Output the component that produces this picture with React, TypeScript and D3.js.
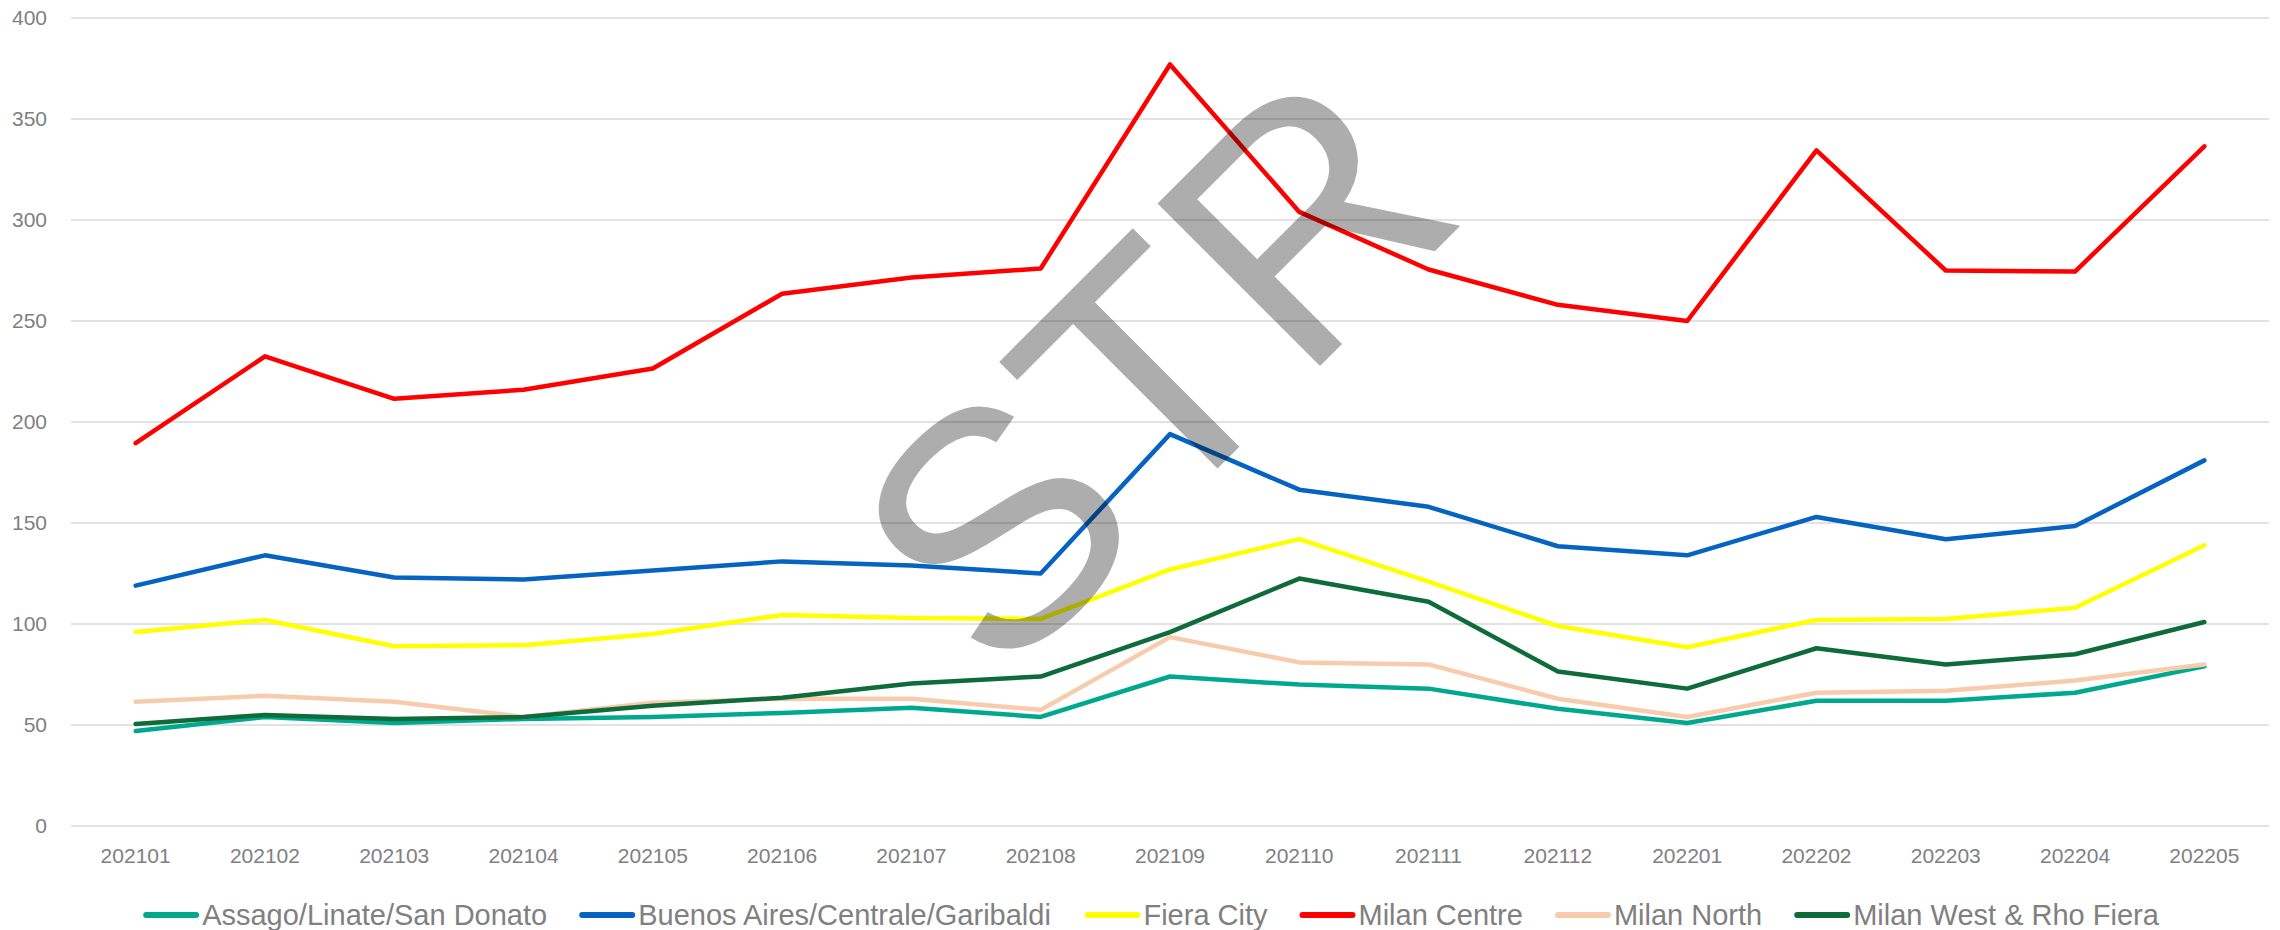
import { scaleLinear, scaleBand, line } from "d3";

const width = 2280;
const height = 930;
const margin = { top: 18, right: 11, bottom: 104, left: 71 };
const innerWidth = width - margin.left - margin.right;
const innerHeight = height - margin.top - margin.bottom;
const fontFamily = "'Liberation Sans', Arial, sans-serif";

const months = [
    "202101", "202102", "202103", "202104", "202105", "202106", "202107", "202108", "202109",
    "202110", "202111", "202112", "202201", "202202", "202203", "202204", "202205",
];
const yTicks = [0, 50, 100, 150, 200, 250, 300, 350, 400];

const assago = [47, 54, 51, 53, 54, 56, 58.5, 54, 74, 70, 68, 58, 51, 62, 62, 66, 79];
const buenosAires = [119, 134, 123, 122, 126.5, 131, 129, 125, 194, 166.5, 158, 138.5, 134, 153, 142, 148.5, 181];
const fieraCity = [96, 102, 89, 89.5, 95, 104.5, 103, 102.5, 127, 142, 121, 99, 88.5, 102, 102.5, 108, 139];
const milanCentre = [189.5, 232.5, 211.5, 216, 226.5, 263.5, 271.5, 276, 377, 304, 275.5, 258, 250, 334.5, 275, 274.5, 336.5];
const milanNorth = [61.5, 64.5, 61.5, 54, 61, 63, 63, 57.5, 93.5, 81, 80, 63, 54, 66, 67, 72, 80];
const milanWest = [50.5, 55, 53, 54, 59.5, 63.5, 70.5, 74, 96, 122.5, 111, 76.5, 68, 88, 80, 85, 101];

const seriesNames = [
    "Assago/Linate/San Donato",
    "Buenos Aires/Centrale/Garibaldi",
    "Fiera City",
    "Milan Centre",
    "Milan North",
    "Milan West & Rho Fiera",
];
const seriesValues = [assago, buenosAires, fieraCity, milanCentre, milanNorth, milanWest];
const seriesColors = ["#00A98D", "#0563C1", "#FFFF00", "#FF0000", "#F8CBAD", "#0E6B3A"];

// legend text widths, measured with a canvas so items can be laid out in a row
function measure(text: string, size: number) {
    const ctx = document.createElement("canvas").getContext("2d");
    if (!ctx) return text.length * size * 0.5;
    ctx.font = `${size}px ${fontFamily}`;
    return ctx.measureText(text).width;
}

export default function App() {
    const xScale = scaleBand<string>().domain(months).range([0, innerWidth]);
    const yScale = scaleLinear().domain([0, 400]).range([innerHeight, 0]);

    const lineGenerator = line<number>()
        .x((_, i) => (xScale(months[i]) ?? 0) + xScale.bandwidth() / 2)
        .y((d) => yScale(d));

    const yAxisGrid = yTicks.map((value) => (
        <g key={value} transform={`translate(0,${yScale(value)})`}>
            <line x1={0} x2={innerWidth} stroke="#D9D9D9" strokeWidth={1.5} />
            <text x={-24} y={7} textAnchor="end" fontSize={21} fill="#808080">
                {value}
            </text>
        </g>
    ));

    const xLabels = months.map((m) => (
        <text
            key={m}
            x={(xScale(m) ?? 0) + xScale.bandwidth() / 2}
            y={innerHeight + 37}
            textAnchor="middle"
            fontSize={21}
            fill="#808080"
        >
            {m}
        </text>
    ));

    // legend layout
    const swatch = 56;
    const legendFont = 29;
    const widths = seriesNames.map((n) => measure(n, legendFont));
    const itemGap = 32;
    const total = widths.reduce((a, b) => a + b, 0) + seriesNames.length * (swatch + 3) + (seriesNames.length - 1) * itemGap;
    let cursor = 1151 - total / 2;
    const legendItems = seriesNames.map((name, i) => {
        const x0 = cursor;
        cursor += swatch + 3 + widths[i] + itemGap;
        return (
            <g key={name} transform={`translate(${x0},915)`}>
                <line x1={3} x2={swatch - 3} stroke={seriesColors[i]} strokeWidth={6} strokeLinecap="round" />
                <text x={swatch + 3} y={10} fontSize={legendFont} fill="#808080">
                    {name}
                </text>
            </g>
        );
    });

    return (
        <svg
            width={width}
            height={height}
            style={{ position: "absolute", left: 0, top: 0, background: "#fff" }}
            fontFamily={fontFamily}
        >
            <g transform={`translate(${margin.left},${margin.top})`}>
                {yAxisGrid}
                {xLabels}
                {seriesValues.map((values, i) => (
                    <path
                        key={seriesNames[i]}
                        d={lineGenerator(values) ?? ""}
                        fill="none"
                        stroke={seriesColors[i]}
                        strokeWidth={4.5}
                        strokeLinejoin="round"
                        strokeLinecap="round"
                    />
                ))}
            </g>
            {legendItems}
            {/* watermark */}
            <text
                transform="translate(1150,366) rotate(-45)"
                textAnchor="middle"
                dy="0.36em"
                fontSize={334}
                fill="#000"
                fillOpacity={0.32}
            >
                STR
            </text>
        </svg>
    );
}
